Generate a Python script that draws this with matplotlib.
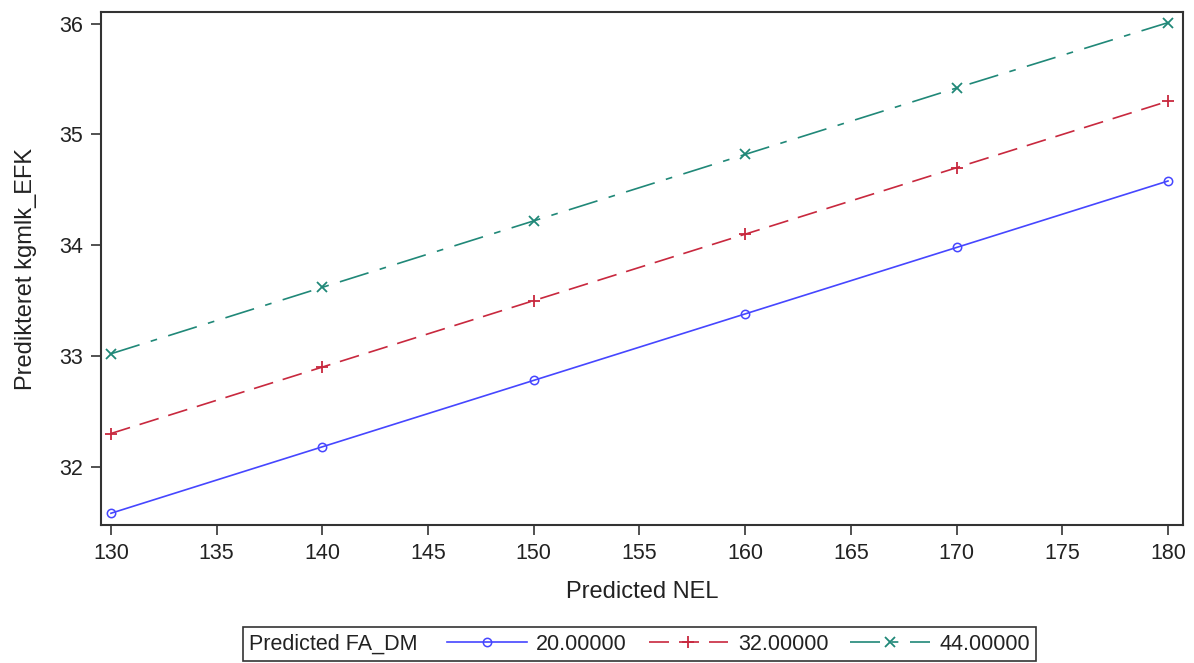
import matplotlib
matplotlib.use("Agg")
import matplotlib.pyplot as plt
from matplotlib.patches import Rectangle

nel = [130, 140, 150, 160, 170, 180]
fa_labels = ["20.00000", "32.00000", "44.00000"]
y_20 = [31.58, 32.18, 32.78, 33.38, 33.98, 34.58]
y_32 = [32.30, 32.90, 33.50, 34.10, 34.70, 35.30]
y_44 = [33.02, 33.62, 34.22, 34.82, 35.42, 36.01]
x_ticks = [130, 135, 140, 145, 150, 155, 160, 165, 170, 175, 180]
y_ticks = [32, 33, 34, 35, 36]

plt.rcParams['font.family'] = ['Liberation Sans', 'DejaVu Sans']
fs_tick = 15.5
fs_lab = 17
fs_leg = 15.5

W, H = 1194, 663
fig = plt.figure(figsize=(W / 100, H / 100), dpi=100)
ax = fig.add_axes([101 / W, 1 - 525 / H, (1183 - 101) / W, (525 - 12) / H])

c_blue = '#4646FF'
c_red = '#C8283E'
c_teal = '#208878'

l1, = ax.plot(nel, y_20, color=c_blue, lw=1.2, marker='o', ms=6, mfc='none', mew=1.1, label=fa_labels[0])
l2, = ax.plot(nel, y_32, color=c_red, lw=1.2, marker='+', ms=8, mew=1.3, label=fa_labels[1])
l2.set_dashes((12, 6))
l3, = ax.plot(nel, y_44, color=c_teal, lw=1.2, marker='x', ms=6.5, mew=1.3, label=fa_labels[2])
l3.set_dashes((18, 7, 4, 7))

ax.set_xlim(129.53, 180.71)
ax.set_ylim(31.474, 36.106)
ax.set_xticks(x_ticks)
ax.set_yticks(y_ticks)
ax.tick_params(direction='out', length=7, width=1.2, labelsize=fs_tick, color='#333333',
               labelcolor='#222222', pad=6)
for s in ax.spines.values():
    s.set_linewidth(1.5)
    s.set_color('#333333')

ax.set_xlabel('Predicted NEL', fontsize=fs_lab, color='#222222')
ax.set_ylabel('Predikteret kgmlk_EFK', fontsize=fs_lab, color='#222222')
ax.xaxis.set_label_coords(0.5, -0.109)
ax.yaxis.set_label_coords(-0.059, 0.5)

# legend box
fig.patches.append(Rectangle((243 / W, 1 - 661 / H), (1036 - 243) / W, 34 / H,
                             transform=fig.transFigure, fill=False, edgecolor='#333333', lw=1.2))
fig.text(249 / W, 1 - 644 / H, 'Predicted FA_DM', fontsize=fs_leg, color='#222222', va='center', ha='left')
leg = fig.legend(handles=[l1, l2, l3], loc='center left', bbox_to_anchor=(447 / W, 1 - 644 / H),
                 ncol=3, frameon=False, fontsize=fs_leg, handlelength=3.7, handletextpad=0.45,
                 columnspacing=1.0, numpoints=1, borderpad=0, borderaxespad=0)
for t in leg.get_texts():
    t.set_color('#222222')

fig.savefig('out.png', dpi=100)
